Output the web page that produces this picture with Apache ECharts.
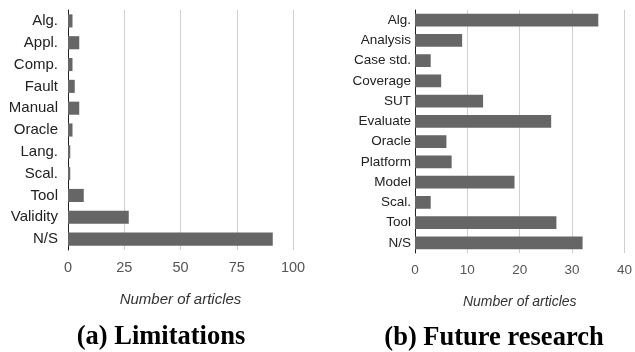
<!DOCTYPE html>
<html>
<head>
<meta charset="utf-8">
<script src="https://cdn.jsdelivr.net/npm/echarts@6/dist/echarts.min.js"></script>
<style>
  html, body { margin: 0; padding: 0; background: #fff; }
  #chart { width: 635px; height: 352px; }
</style>
</head>
<body>
<div id="chart"></div>
<script>
// (a) Limitations
const limitCategories = ['Alg.', 'Appl.', 'Comp.', 'Fault', 'Manual', 'Oracle', 'Lang.', 'Scal.', 'Tool', 'Validity', 'N/S'];
const limitValues = [2, 5, 2, 3, 5, 2, 1, 1, 7, 27, 91];
const limitTicks = [0, 25, 50, 75, 100];

// (b) Future research
const futureCategories = ['Alg.', 'Analysis', 'Case std.', 'Coverage', 'SUT', 'Evaluate', 'Oracle', 'Platform', 'Model', 'Scal.', 'Tool', 'N/S'];
const futureValues = [35, 9, 3, 5, 13, 26, 6, 7, 19, 3, 27, 32];
const futureTicks = [0, 10, 20, 30, 40];

const captions = ['(a) Limitations', '(b) Future research'];
const axisTitle = 'Number of articles';

const barColor = '#666666';
const font = 'Liberation Sans, Arial, sans-serif';
const captionFont = 'bold 26.5px "Liberation Serif", "Times New Roman", serif';

function valueAxis(gridIndex, ticks, tickSize, nameSize) {
  return {
    type: 'value',
    gridIndex,
    min: ticks[0],
    max: ticks[ticks.length - 1],
    interval: ticks[1] - ticks[0],
    axisLine: { show: false },
    axisTick: { show: false },
    splitLine: { show: true, lineStyle: { color: '#cfcfcf', width: 1 } },
    axisLabel: { color: '#555', fontSize: tickSize, fontFamily: font, margin: 10 },
    name: axisTitle,
    nameLocation: 'middle',
    nameGap: 42,
    nameTextStyle: { color: '#333', fontSize: nameSize, fontStyle: 'italic', fontFamily: font }
  };
}

function categoryAxis(gridIndex, cats, labelSize, margin) {
  return {
    type: 'category',
    gridIndex,
    data: cats,
    inverse: true,
    axisLine: { show: true, lineStyle: { color: '#222', width: 1 } },
    axisTick: { show: false },
    axisLabel: { color: '#222', fontSize: labelSize, fontFamily: font, margin, interval: 0 },
    splitLine: { show: false }
  };
}

const chart = echarts.init(document.getElementById('chart'), null, { renderer: 'canvas' });
chart.setOption({
  animation: false,
  backgroundColor: '#ffffff',
  grid: [
    { left: 68, right: 342, top: 10, bottom: 102 },
    { left: 415, right: 8, top: 10, bottom: 99 }
  ],
  xAxis: [
    valueAxis(0, limitTicks, 14.5, 15),
    valueAxis(1, futureTicks, 13.5, 14)
  ],
  yAxis: [
    categoryAxis(0, limitCategories, 15, 10),
    categoryAxis(1, futureCategories, 13.5, 4)
  ],
  series: [
    {
      type: 'bar', xAxisIndex: 0, yAxisIndex: 0,
      data: limitValues, barCategoryGap: '40%',
      itemStyle: { color: barColor }
    },
    {
      type: 'bar', xAxisIndex: 1, yAxisIndex: 1,
      data: futureValues, barCategoryGap: '37%',
      itemStyle: { color: barColor }
    }
  ],
  graphic: [
    {
      type: 'text', x: 161, y: 337,
      style: { text: captions[0], align: 'center', verticalAlign: 'middle', font: captionFont, fill: '#000' }
    },
    {
      type: 'text', x: 494, y: 338,
      style: { text: captions[1], align: 'center', verticalAlign: 'middle', font: captionFont, fill: '#000' }
    }
  ]
});
</script>
</body>
</html>
